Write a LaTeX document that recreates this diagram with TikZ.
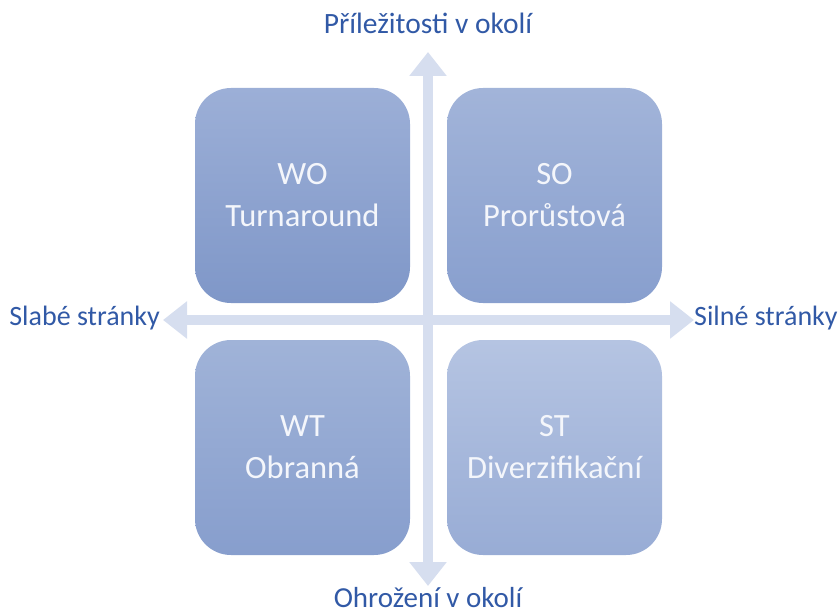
\documentclass[tikz,border=0pt]{standalone}
\usepackage{fontspec}
\setmainfont{Carlito}
\usetikzlibrary{arrows.meta}

\definecolor{axisfill}{HTML}{D6DEEF}
\definecolor{labelblue}{HTML}{3159A6}
\definecolor{boxtext}{HTML}{F4F6FB}
\definecolor{woTop}{HTML}{9CAFD7}
\definecolor{woBot}{HTML}{7F97C8}
\definecolor{soTop}{HTML}{A2B4D9}
\definecolor{soBot}{HTML}{889FCE}
\definecolor{wtTop}{HTML}{A0B3D8}
\definecolor{wtBot}{HTML}{879ECD}
\definecolor{stTop}{HTML}{B5C4E2}
\definecolor{stBot}{HTML}{98ACD5}

\tikzset{
  quadrant/.style={rounded corners=36pt, minimum width=215pt, minimum height=215pt,
    inner sep=0pt, align=center, text=boxtext,
    font=\fontsize{32.5}{42}\selectfont},
  axislabel/.style={text=labelblue, font=\fontsize{28}{33}\selectfont, inner sep=0pt},
  axis/.style={draw=axisfill, line width=10pt,
    {Triangle[width=36pt,length=24pt]}-{Triangle[width=36pt,length=24pt]}}
}

\begin{document}
\begin{tikzpicture}[x=1pt,y=-1pt]
  \useasboundingbox (0,0) rectangle (840,615);

  % axis end points
  \coordinate (top) at (428,52);
  \coordinate (bottom) at (428,586);
  \coordinate (left) at (163,320);
  \coordinate (right) at (694,320);

  % the two double-headed axes
  \draw[axis] (bottom) -- (top);
  \draw[axis] (left) -- (right);

  % quadrants
  \node[quadrant, top color=woTop, bottom color=woBot] (wo) at (302.5,195.5) {WO\\Turnaround};
  \node[quadrant, top color=soTop, bottom color=soBot] (so) at (554.5,195.5) {SO\\Prorůstová};
  \node[quadrant, top color=wtTop, bottom color=wtBot] (wt) at (302.5,447.5) {WT\\Obranná};
  \node[quadrant, top color=stTop, bottom color=stBot] (st) at (554.5,447.5) {ST\\Diverzifikační};

  % axis labels
  \node[axislabel, font=\fontsize{29.5}{34}\selectfont] (opp) at (428,23) {Příležitosti v okolí};
  \node[axislabel, font=\fontsize{29}{34}\selectfont, anchor=base] (thr) at (428,607) {Ohrožení v okolí};
  \node[axislabel, anchor=east] (weak) at (160,318) {Slabé stránky};
  \node[axislabel, anchor=west] (strong) at (694,318) {Silné stránky};
\end{tikzpicture}
\end{document}
